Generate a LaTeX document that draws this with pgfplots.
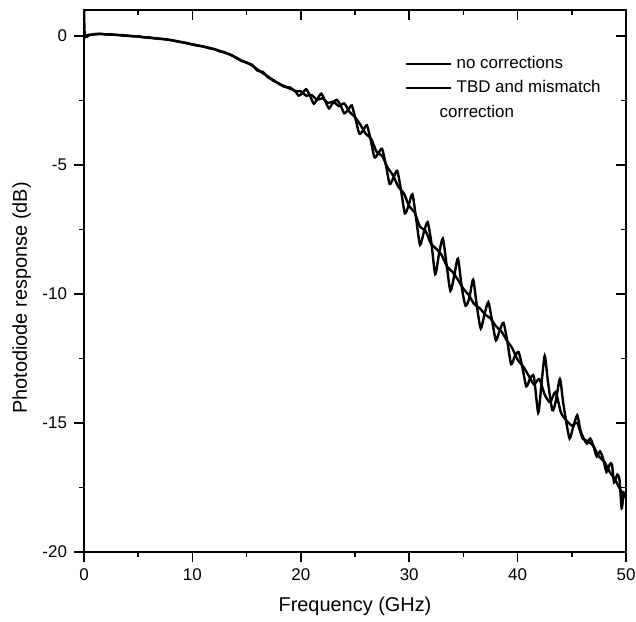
\documentclass[border=0pt]{standalone}
\usepackage{fontspec}
\setmainfont{Liberation Sans}
\usepackage{pgfplots}
\pgfplotsset{compat=1.18}
\begin{document}
\begin{tikzpicture}
\pgfplotsset{
  base/.style={
    scale only axis, width=271bp, height=271bp,
    xmin=0, xmax=50, ymin=-20, ymax=1,
    xtick={0,10,20,30,40,50}, minor xtick={5,15,25,35,45},
    ytick={-20,-15,-10,-5,0}, minor ytick={-17.5,-12.5,-7.5,-2.5},
    major tick length=5bp, minor tick length=2.5bp,
    every tick/.style={black, line width=0.8bp},
  }
}
\begin{axis}[base,
  axis line style={line width=1bp},
  xticklabels={0,10,20,30,40,50},
  yticklabels={-20,-15,-10,-5,0},
  xtick pos=left, ytick pos=left,
  tick align=outside,
  ticklabel style={font=\fontsize{8.5}{10}\selectfont},
  xlabel={Frequency (GHz)}, ylabel={Photodiode response (dB)},
  label style={font=\fontsize{11.8}{14}\selectfont},
  every axis x label/.style={at={(axis description cs:0.5,-0.0996)}, anchor=center},
  every axis y label/.style={at={(axis description cs:-0.115,0.4686)}, rotate=90, anchor=center},
  legend style={at={(axis description cs:0.592,0.9225)}, anchor=north west, draw=none, fill=none,
    font=\fontsize{8.5}{10}\selectfont, row sep=0.5bp, inner sep=0pt},
  legend cell align=left,
  legend image code/.code={\draw[#1] (0bp,0bp) -- (22.5bp,0bp);},
  clip=true,
]
\addplot[black, line width=1.2bp, smooth, tension=0.4] coordinates {
(0,1.2)(0.08,0.0)(0.5,0.03)(1,0.07)(1.5,0.08)(2,0.05)(2.5,0.06)(3,0.03)(3.5,0.03)(4,0.0)(4.5,-0.01)(5,-0.03)(5.5,-0.06)(6,-0.06)(6.5,-0.1)(7,-0.12)(7.5,-0.13)(8,-0.17)(8.5,-0.2)(9,-0.24)(9.5,-0.29)(10,-0.33)(10.5,-0.37)(11,-0.42)(11.5,-0.46)(12,-0.52)(12.5,-0.58)(13,-0.66)(13.5,-0.72)(14,-0.85)(14.5,-0.95)(15,-1.05)(15.5,-1.12)(16,-1.35)(16.5,-1.4)(17,-1.62)(17.5,-1.72)(18,-1.87)(18.5,-1.95)(19,-2.05)(19.45,-2.12)
(19.8,-2.32)(20.15,-2.22)(20.5,-2.07)(20.85,-2.33)(21.2,-2.63)(21.55,-2.43)(21.9,-2.24)(22.25,-2.53)(22.6,-2.81)(22.95,-2.6)(23.3,-2.48)(23.65,-2.67)(24.0,-3.0)(24.35,-2.88)(24.7,-2.7)(25.05,-3.23)(25.4,-3.79)(25.75,-3.66)(26.1,-3.47)(26.45,-4.04)(26.8,-4.71)(27.15,-4.55)(27.5,-4.38)(27.85,-5.01)(28.2,-5.74)(28.55,-5.49)(28.9,-5.23)(29.25,-6.0)(29.6,-6.88)(29.95,-6.56)(30.3,-6.14)(30.65,-7.12)(31.0,-8.1)(31.35,-7.61)(31.7,-7.22)(32.05,-8.03)(32.4,-9.24)(32.75,-8.45)(33.1,-7.86)(33.45,-8.87)(33.8,-9.88)(34.15,-9.3)(34.5,-8.63)(34.85,-9.75)(35.2,-10.46)(35.55,-10.15)(35.9,-9.45)(36.25,-10.5)(36.6,-11.34)(36.95,-10.78)(37.3,-10.32)(37.65,-11.06)(38.0,-11.8)(38.35,-11.41)(38.7,-11.12)(39.05,-11.84)(39.4,-12.72)(39.75,-12.4)(40.1,-12.26)(40.45,-12.87)(40.8,-13.58)(41.15,-13.28)(41.5,-13.2)(41.9,-14.6)(42.2,-13.5)(42.5,-12.4)(42.8,-13.4)(43.2,-14.5)(43.5,-14.2)(43.9,-13.3)(44.2,-14.2)(44.5,-15.0)(44.8,-15.6)(45.1,-15.2)(45.5,-14.7)(45.8,-15.3)(46.1,-15.6)(46.4,-15.8)(46.7,-15.6)(47.0,-15.9)(47.3,-16.3)(47.6,-16.1)(47.9,-16.4)(48.2,-16.9)(48.5,-16.6)(48.7,-16.6)(48.9,-17.3)(49.2,-17.0)(49.4,-17.2)(49.6,-18.3)(49.8,-17.7)(50,-17.9)
};
\addlegendentry{no corrections}
\addplot[black, line width=1.2bp, smooth, tension=0.4] coordinates {
(0,0.0)(0.5,0.04)(1,0.05)(1.5,0.07)(2,0.06)(2.5,0.04)(3,0.04)(3.5,0.01)(4,0.01)(4.5,-0.02)(5,-0.02)(5.5,-0.05)(6,-0.08)(6.5,-0.09)(7,-0.11)(7.5,-0.14)(8,-0.16)(8.5,-0.21)(9,-0.25)(9.5,-0.28)(10,-0.34)(10.5,-0.38)(11,-0.41)(11.5,-0.48)(12,-0.51)(12.5,-0.6)(13,-0.64)(13.5,-0.74)(14,-0.83)(14.5,-0.97)(15,-1.03)(15.5,-1.15)(16,-1.3)(16.5,-1.45)(17,-1.58)(17.5,-1.75)(18,-1.85)(18.5,-1.98)(19,-2.0)
(19.5,-2.15)(20,-2.15)(20.5,-2.32)(21,-2.3)(21.5,-2.48)(22,-2.42)(22.5,-2.6)(23,-2.55)(23.5,-2.72)(24,-2.62)(24.5,-2.95)(25,-3.15)(25.5,-3.45)(26,-3.8)(26.5,-4.0)(27,-4.5)(27.5,-4.65)(28,-5.1)(28.5,-5.4)(29,-5.85)(29.5,-6.1)(30,-6.6)(30.5,-6.85)(31,-7.4)(31.5,-7.55)(32,-8.05)(32.5,-8.25)(33,-8.5)(33.5,-8.95)(34,-9.15)(34.5,-9.45)(35,-9.8)(35.5,-10.05)(36,-10.4)(36.5,-10.55)(37,-10.8)(37.5,-10.95)(38,-11.25)(38.5,-11.45)(39,-11.8)(39.5,-12.1)(40,-12.55)(40.5,-12.8)(41,-13.15)(41.5,-13.5)(42,-13.3)(42.5,-13.9)(43,-14.2)(43.5,-13.8)(44,-14.6)(44.5,-14.9)(45,-15.1)(45.5,-15.0)(46,-15.6)(46.5,-15.7)(47,-15.9)(47.5,-16.3)(48,-16.5)(48.5,-16.9)(49,-17.2)(49.5,-17.6)(50,-17.9)
};
\addlegendentry{TBD and mismatch}
\addlegendimage{empty legend}
\addlegendentry{\hspace*{-8.5bp}correction}
\end{axis}
\begin{axis}[base,
  axis line style={draw=none},
  xtick pos=right, ytick pos=right,
  tick align=inside,
  xticklabels={}, yticklabels={},
]
\end{axis}
\pgfresetboundingbox
\path[use as bounding box] ([xshift=-42bp,yshift=-34.5bp]current axis.south west) rectangle ([xshift=5bp,yshift=5bp]current axis.north east);
\end{tikzpicture}
\end{document}
